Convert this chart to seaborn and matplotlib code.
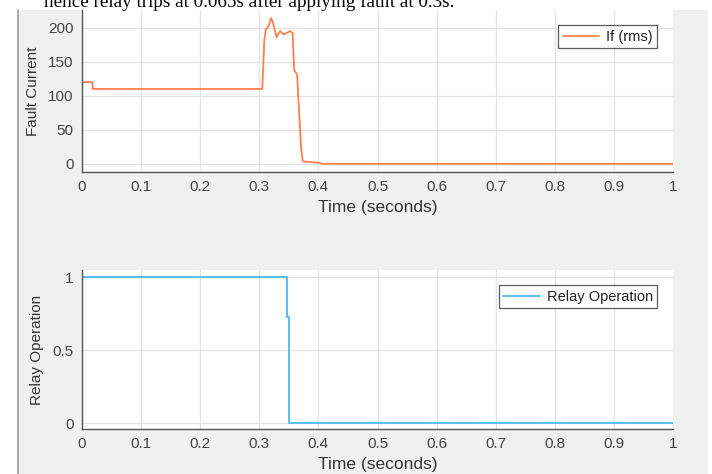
import numpy as np
import pandas as pd
import matplotlib
matplotlib.use("Agg")
import matplotlib.pyplot as plt
import seaborn as sns
from matplotlib.patches import Rectangle
from matplotlib.lines import Line2D

# --- data ---
fault_time = [0, 0.018, 0.018, 0.305, 0.3085, 0.311, 0.315, 0.32, 0.3225, 0.3294,
              0.335, 0.342, 0.352, 0.3565, 0.359, 0.364, 0.3677, 0.3706, 0.3734,
              0.4027, 0.405, 1.0]
fault_current = [120, 120, 110, 110, 182, 198, 201, 214, 209, 186,
                 195, 190, 195, 192, 138, 131, 70, 25, 3.5,
                 1.5, 0, 0]

relay_time = [0, 0.3474, 0.3508, 1.0]
relay_state = [1, 0.73, 0, 0]

x_ticks = [0, 0.1, 0.2, 0.3, 0.4, 0.5, 0.6, 0.7, 0.8, 0.9, 1]
x_tick_labels = ['0', '0.1', '0.2', '0.3', '0.4', '0.5', '0.6', '0.7', '0.8', '0.9', '1']
fault_yticks = [0, 50, 100, 150, 200]
relay_yticks = [0, 0.5, 1]
relay_ytick_labels = ['0', '0.5', '1']

caption = "hence relay trips at 0.065s after applying fault at 0.3s."

sns.set_style("white")
plt.rcParams['font.family'] = ['Liberation Sans', 'DejaVu Sans']

W, H = 712, 474
fig = plt.figure(figsize=(W / 100, H / 100), dpi=100, facecolor='white')

# grey matlab figure window behind the axes
fig.patches.append(Rectangle((18 / W, 0), (708 - 18) / W, 1 - 10 / H,
                             transform=fig.transFigure, facecolor='#f0f0f0',
                             edgecolor='none', zorder=-10))
fig.lines.append(Line2D([17.5 / W, 17.5 / W], [0, 1 - 10 / H],
                        transform=fig.transFigure, color='#9a9a9a', lw=1.2))

# document text, cut off at the top like in the screenshot
fig.text(44 / W, 1 - 7 / H, caption, family=['Liberation Serif', 'DejaVu Serif'],
         fontsize=13.8, color='black', va='baseline', ha='left')

ax1 = fig.add_axes([82 / W, 1 - 172 / H, (673 - 82) / W, 162 / H])
ax2 = fig.add_axes([82 / W, 1 - 429 / H, (673 - 82) / W, 159 / H])

df_fault = pd.DataFrame({'t': fault_time, 'If': fault_current})
df_relay = pd.DataFrame({'t': relay_time, 'r': relay_state})

sns.lineplot(data=df_fault, x='t', y='If', ax=ax1, estimator=None, sort=False,
             color='#ff7f4d', lw=1.3, label='If (rms)')
sns.lineplot(data=df_relay, x='t', y='r', ax=ax2, estimator=None, sort=False,
             color='#4db8f0', lw=1.3, drawstyle='steps-post', label='Relay Operation')

ax1.set_ylim(-12, 226)
ax1.set_yticks(fault_yticks)
ax2.set_ylim(-0.04, 1.05)
ax2.set_yticks(relay_yticks)
ax2.set_yticklabels(relay_ytick_labels)

for ax, ylab in [(ax1, 'Fault Current'), (ax2, 'Relay Operation')]:
    ax.set_facecolor('white')
    ax.set_xlim(0, 1)
    ax.set_xticks(x_ticks)
    ax.set_xticklabels(x_tick_labels)
    ax.grid(True, color='#e3e3e3', lw=0.9)
    ax.set_axisbelow(True)
    for s in ['top', 'right']:
        ax.spines[s].set_visible(False)
    for s in ['bottom', 'left']:
        ax.spines[s].set_color('#555555')
        ax.spines[s].set_linewidth(1.0)
    ax.tick_params(direction='in', length=4, width=0.8, color='#555555',
                   labelcolor='#444444', labelsize=11, pad=6)
    ax.set_xlabel('Time (seconds)', fontsize=12.5, color='#333333', labelpad=4)
    ax.set_ylabel(ylab, fontsize=11, color='#333333', labelpad=6)
    leg = ax.legend(loc='upper right', fontsize=10.5, frameon=True, fancybox=False,
                    handlelength=2.5, borderpad=0.3, handletextpad=0.5,
                    bbox_to_anchor=(0.986, 0.95))
    leg.get_frame().set_edgecolor('#333333')
    leg.get_frame().set_linewidth(0.9)
    for txt in leg.get_texts():
        txt.set_color('#222222')

fig.savefig('out.png', dpi=100, facecolor=fig.get_facecolor())
